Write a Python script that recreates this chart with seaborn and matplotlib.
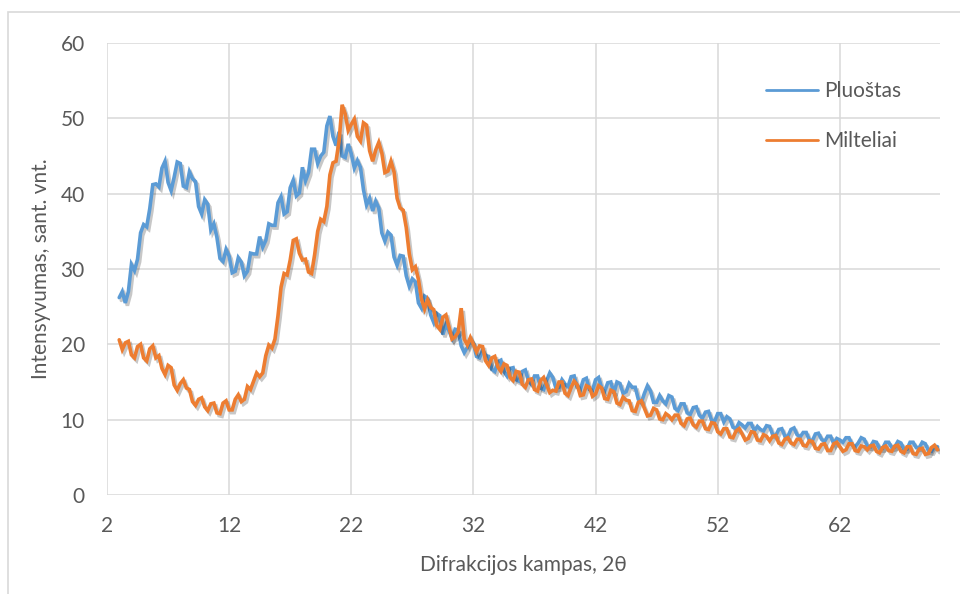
import matplotlib
matplotlib.use('Agg')
import matplotlib.pyplot as plt
import matplotlib.patheffects as pe
from matplotlib.patches import Rectangle
import seaborn as sns
import numpy as np
import pandas as pd

# Diffraction angle 2theta, step 0.25 deg
angle = np.arange(3.0, 70.01, 0.25)

pluostas = [
    26.2, 27.0, 25.5, 27.0, 30.6, 29.8, 31.3, 34.8, 35.9, 35.6, 38.0, 41.2, 41.3, 40.9, 43.4, 44.3,
    41.5, 40.4, 42.2, 44.2, 44.0, 41.0, 40.8, 42.9, 42.0, 41.6, 38.3, 37.3, 39.2, 38.6, 35.2, 36.0,
    34.2, 31.4, 31.0, 32.6, 31.7, 29.5, 29.7, 31.5, 30.9, 29.1, 29.7, 32.1, 32.0, 32.0, 34.3, 32.9,
    33.8, 36.0, 35.8, 35.8, 38.8, 39.6, 37.3, 37.6, 40.8, 41.8, 39.7, 40.1, 43.5, 41.7, 42.8, 45.9,
    45.9, 44.0, 45.0, 45.5, 49.0, 50.3, 47.6, 46.4, 48.2, 45.0, 44.8, 46.6, 45.3, 43.4, 44.4, 43.5,
    40.5, 38.5, 39.4, 37.7, 39.0, 38.1, 34.8, 33.7, 34.9, 34.5, 31.6, 30.5, 31.8, 31.7, 29.1, 27.7,
    28.7, 28.3, 25.5, 24.8, 26.4, 26.1, 23.9, 22.9, 24.1, 23.8, 21.3, 22.6, 21.8, 20.8, 22.0, 21.9,
    19.8, 18.9, 19.6, 20.7, 20.1, 18.4, 18.2, 19.2, 18.5, 18.4, 16.7, 16.4, 17.7, 17.9, 16.4, 15.8,
    16.8, 16.9, 15.3, 15.1, 16.4, 16.6, 15.2, 14.7, 15.8, 15.8, 14.2, 14.0, 15.2, 16.2, 15.6, 14.2,
    14.3, 15.3, 14.7, 14.4, 15.7, 15.8, 14.3, 14.0, 15.3, 15.5, 14.0, 13.9, 15.3, 15.6, 14.2, 13.8,
    14.9, 15.0, 13.5, 15.0, 14.8, 13.5, 13.7, 14.8, 14.3, 14.3, 12.7, 12.3, 13.5, 14.5, 13.8, 12.3,
    12.3, 13.2, 12.5, 12.1, 13.2, 13.0, 11.5, 11.2, 12.1, 12.1, 10.9, 10.7, 11.6, 11.7, 10.6, 10.2,
    11.0, 11.1, 9.9, 9.8, 10.8, 10.8, 9.7, 10.4, 10.1, 9.0, 8.8, 9.6, 9.3, 8.9, 9.5, 9.5,
    8.5, 9.1, 8.7, 8.5, 9.2, 9.1, 8.0, 7.9, 8.7, 8.8, 7.8, 7.8, 8.7, 8.9, 8.0, 7.7,
    8.3, 8.3, 7.3, 7.2, 8.1, 8.2, 7.4, 7.1, 7.8, 7.8, 6.8, 7.5, 7.3, 7.0, 7.6, 7.6,
    6.7, 6.4, 6.9, 7.6, 7.4, 6.5, 6.4, 7.1, 7.0, 6.2, 6.2, 7.0, 7.0, 6.3, 6.4, 7.1,
    6.9, 6.1, 6.1, 7.0, 7.0, 6.3, 6.3, 7.0, 6.8, 5.9, 5.8, 6.5, 6.4,
]

milteliai = [
    20.6, 19.3, 20.2, 20.4, 18.6, 18.2, 19.7, 20.0, 18.2, 17.8, 19.4, 19.8, 18.2, 18.5, 16.8, 16.0,
    17.2, 16.9, 14.6, 13.9, 14.8, 15.3, 14.2, 14.0, 12.4, 11.9, 12.7, 12.9, 11.7, 11.2, 12.1, 12.2,
    10.9, 10.8, 12.2, 12.5, 11.3, 11.3, 12.7, 13.3, 12.4, 12.7, 14.4, 14.0, 15.1, 16.2, 15.7, 16.2,
    18.5, 19.9, 19.5, 20.7, 23.8, 27.6, 29.4, 29.2, 31.2, 33.8, 34.0, 32.1, 31.2, 31.3, 29.6, 29.4,
    31.9, 35.0, 36.6, 36.3, 38.3, 42.5, 44.1, 44.3, 47.0, 51.8, 50.6, 48.4, 49.2, 49.9, 47.6, 47.0,
    49.4, 49.1, 45.7, 44.3, 45.8, 46.8, 45.4, 42.8, 43.0, 44.3, 42.9, 39.4, 38.1, 37.8, 35.5, 32.0,
    29.9, 30.3, 28.6, 26.0, 24.7, 25.9, 24.9, 24.6, 22.5, 22.0, 23.6, 23.9, 22.3, 20.7, 21.0, 21.6,
    24.8, 20.7, 19.9, 20.9, 20.0, 19.0, 19.8, 19.7, 17.8, 17.2, 18.2, 18.4, 17.0, 16.4, 17.4, 17.2,
    15.6, 15.2, 16.4, 16.3, 14.7, 14.3, 15.3, 15.4, 14.0, 13.8, 15.2, 15.6, 14.6, 13.6, 13.9, 13.8,
    15.0, 15.0, 13.5, 13.2, 14.3, 15.1, 14.6, 13.2, 13.3, 14.5, 14.3, 13.1, 13.4, 14.5, 14.2, 12.8,
    12.7, 13.9, 13.7, 12.2, 12.0, 13.0, 12.6, 12.5, 11.2, 11.1, 12.3, 12.5, 11.5, 10.5, 10.6, 11.5,
    11.3, 10.1, 10.0, 10.8, 10.5, 10.0, 10.6, 10.6, 9.5, 9.2, 10.1, 10.2, 9.3, 9.0, 9.8, 9.8,
    8.8, 8.7, 9.6, 9.5, 8.4, 8.1, 8.8, 8.8, 7.7, 7.6, 8.5, 8.8, 8.1, 7.3, 7.5, 8.4,
    8.3, 7.3, 7.2, 8.0, 7.8, 7.2, 7.8, 7.9, 6.9, 6.7, 7.4, 7.6, 6.9, 6.7, 7.4, 7.4,
    6.6, 6.5, 7.2, 7.1, 6.2, 6.1, 6.7, 6.8, 5.9, 5.9, 6.8, 7.0, 6.4, 5.8, 6.0, 6.8,
    6.8, 5.9, 5.8, 6.5, 6.4, 6.0, 6.5, 6.6, 5.8, 5.6, 6.3, 6.5, 5.9, 5.8, 6.5, 6.6,
    5.8, 5.6, 6.4, 6.4, 5.5, 5.4, 6.1, 6.2, 5.4, 5.5, 6.3, 6.6, 6.0,
]

series_names = ["Pluoštas", "Milteliai"]
colors = ["#5B9BD5", "#ED7D31"]
x_ticks = [2, 12, 22, 32, 42, 52, 62]
y_ticks = [0, 10, 20, 30, 40, 50, 60]

df = pd.DataFrame({
    "angle": np.concatenate([angle, angle]),
    "value": pluostas + milteliai,
    "series": [series_names[0]] * len(angle) + [series_names[1]] * len(angle),
})

sns.set_theme(style="white")
plt.rcParams['font.family'] = ['Lato', 'DejaVu Sans']

fig = plt.figure(figsize=(9.6, 5.94), dpi=100)
ax = fig.add_axes([107 / 960, 1 - 495 / 594, (940 - 107) / 960, (495 - 43) / 594])

sns.lineplot(data=df, x="angle", y="value", hue="series", hue_order=series_names,
             palette=colors, lw=2.6, ax=ax, sort=False, estimator=None)

# soft drop shadow like the original chart
shadow = [pe.SimpleLineShadow(offset=(1.5, -2), shadow_color="black", alpha=0.22), pe.Normal()]
for line in ax.get_lines():
    line.set_path_effects(shadow)
    line.set_solid_joinstyle("miter")

ax.set_xlim(2, 70.2)
ax.set_ylim(0, 60)
ax.set_xticks(x_ticks)
ax.set_yticks(y_ticks)
ax.grid(True, color="#d9d9d9", lw=1.1)
ax.set_axisbelow(True)
for s in ax.spines.values():
    s.set_visible(False)

ax.tick_params(axis="both", colors="#595959", labelsize=15, length=0)
ax.tick_params(axis="y", pad=16)
ax.tick_params(axis="x", pad=15)
ax.set_xlabel("Difrakcijos kampas, 2θ", fontsize=15, color="#595959", labelpad=14)
ax.set_ylabel("Intensyvumas, sant. vnt.", fontsize=15, color="#595959", labelpad=7)

handles, labels = ax.get_legend_handles_labels()
leg = ax.legend(handles, labels, loc="upper left", frameon=False, fontsize=15,
                bbox_to_anchor=(766 / 960, 1 - 81 / 594), bbox_transform=fig.transFigure,
                handlelength=2.5, handletextpad=0.3, labelspacing=1.45, borderpad=0, borderaxespad=0)
for t in leg.get_texts():
    t.set_color("#595959")
for h in leg.get_lines():
    h.set_linewidth(2.0)
    h.set_path_effects([])

# outer chart frame
fig.patches.append(Rectangle((8 / 960, -0.1), 2.0, 1 - 12 / 594 + 0.1, transform=fig.transFigure,
                             fill=False, edgecolor="#d9d9d9", lw=1.2))

fig.savefig("out.png", dpi=100, facecolor="white")
plt.close(fig)
